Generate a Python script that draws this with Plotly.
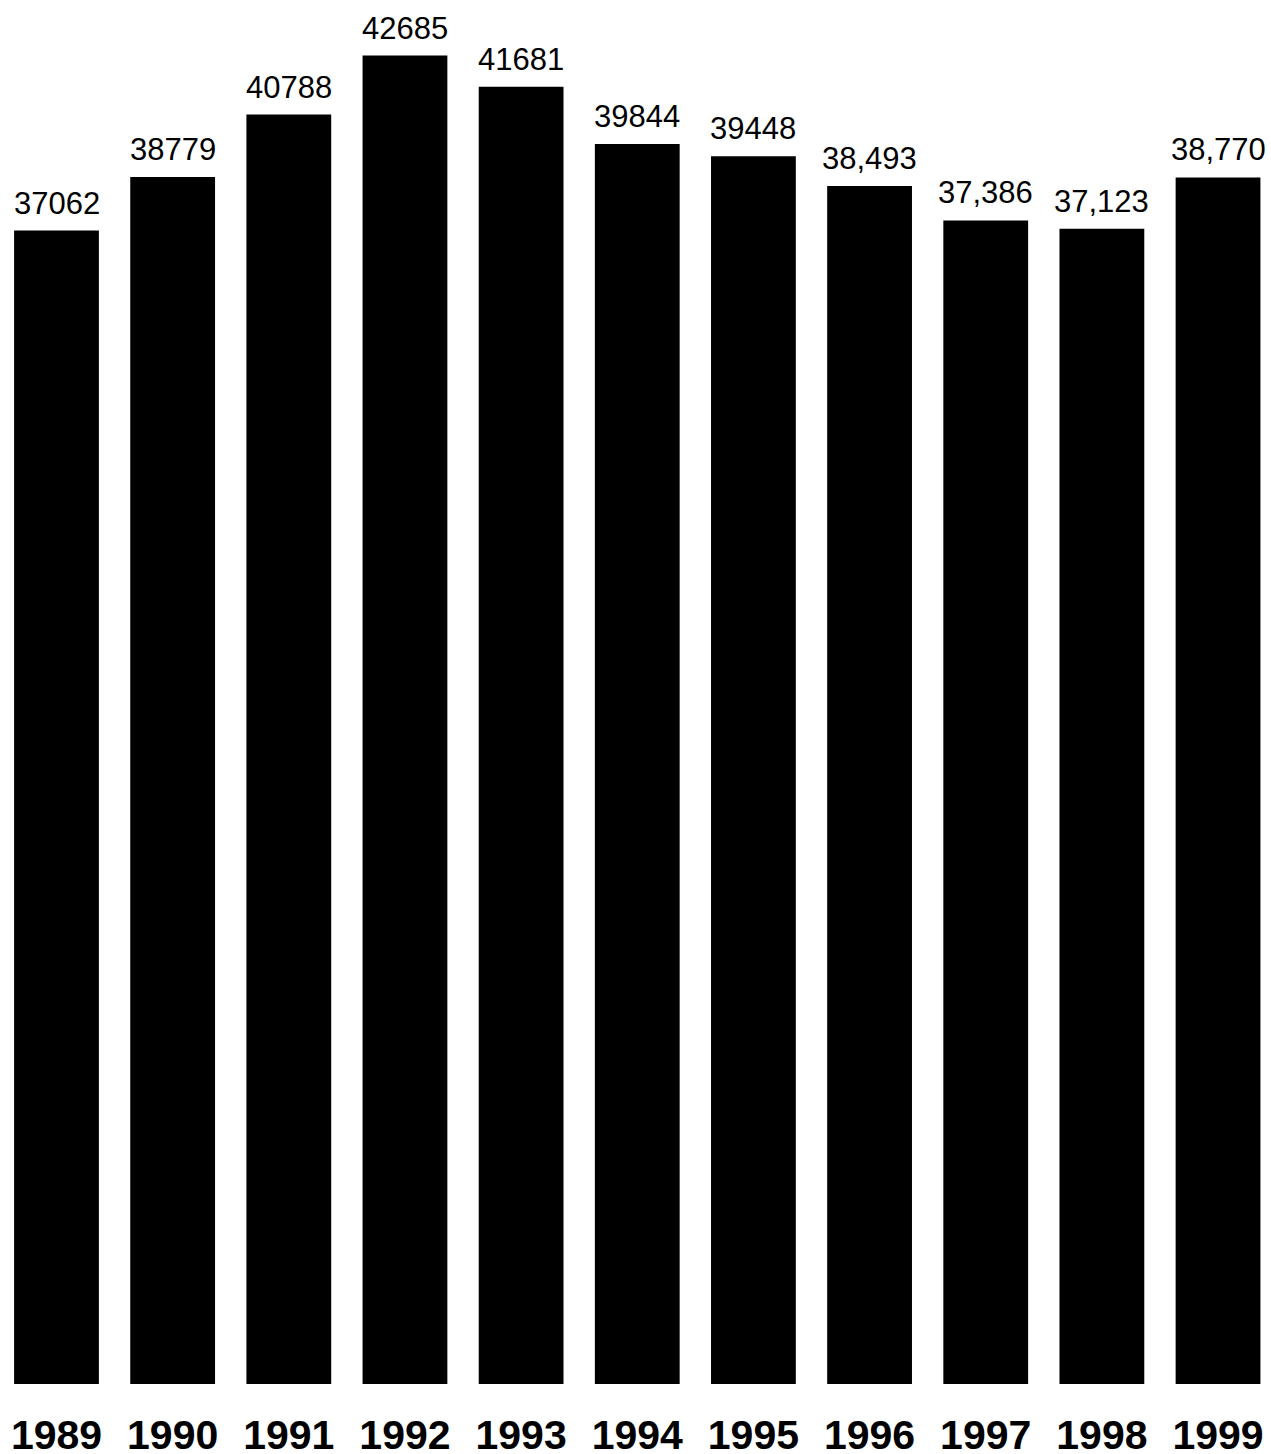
import plotly.graph_objects as go

years = ["1989", "1990", "1991", "1992", "1993", "1994", "1995", "1996", "1997", "1998", "1999"]
values = [37062, 38779, 40788, 42685, 41681, 39844, 39448, 38493, 37386, 37123, 38770]
value_labels = ["37062", "38779", "40788", "42685", "41681", "39844", "39448",
                "38,493", "37,386", "37,123", "38,770"]

FONT = "Liberation Sans, Arial, sans-serif"
xs = list(range(len(years)))

fig = go.Figure()
fig.add_trace(go.Bar(
    x=xs, y=values, width=0.73,
    marker=dict(color="#000000", line=dict(width=0)),
    hoverinfo="skip",
))

for x, v, lab in zip(xs, values, value_labels):
    fig.add_annotation(
        x=x, y=v, text=lab, showarrow=False, xanchor="center", yanchor="bottom",
        yshift=8, font=dict(family=FONT, size=31, color="#000000"),
    )

fig.update_layout(
    width=1271, height=1454,
    margin=dict(l=0, r=0, t=0, b=70, pad=0, autoexpand=False),
    paper_bgcolor="white", plot_bgcolor="white",
    showlegend=False,
    xaxis=dict(
        range=[-0.4864, 10.456],
        tickmode="array", tickvals=xs,
        ticktext=["<b>" + y + "</b>" for y in years],
        tickfont=dict(family=FONT, size=41, color="#000000"),
        showgrid=False, zeroline=False, showline=False, ticks="",
        ticklabelstandoff=23, automargin=False,
    ),
    yaxis=dict(
        range=[0, 44470], visible=False, showgrid=False, zeroline=False,
        automargin=False,
    ),
)

fig.write_html(
    "out.html",
    config={"displayModeBar": False},
    post_script="document.body.style.margin='0';document.body.style.padding='0';"
                "document.documentElement.style.overflow='hidden';",
)
